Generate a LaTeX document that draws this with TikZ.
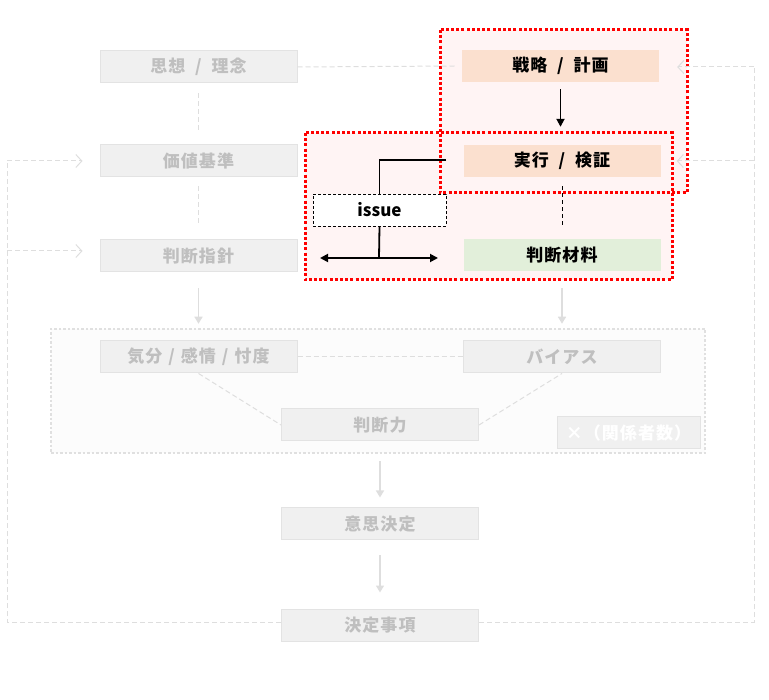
\documentclass[tikz,border=0pt]{standalone}
\usepackage{fontspec}
\setmainfont{Noto Sans CJK JP}[LetterSpace=6]
\newfontfamily\latinjp{Noto Sans CJK JP}
\usetikzlibrary{arrows.meta}
\definecolor{gfill}{HTML}{F0F0F0}
\definecolor{gborder}{HTML}{E3E3E3}
\definecolor{gtext}{HTML}{BFBFBF}
\definecolor{gline}{HTML}{DEDEDE}
\definecolor{peachc}{HTML}{FBE0CF}
\definecolor{greenc}{HTML}{E2EFDA}
\definecolor{pinkc}{HTML}{FFF4F4}
\definecolor{grpfill}{HTML}{FCFCFC}
\definecolor{grpline}{HTML}{E0E0E0}
\begin{document}
\begin{tikzpicture}[x=1pt,y=-1pt,
  box/.style={minimum width=197pt,minimum height=32pt,inner sep=0pt,font=\bfseries\fontsize{17}{17}\selectfont},
  graybox/.style={box,fill=gfill,draw=gborder,line width=1pt,text=gtext},
  peachbox/.style={box,fill=peachc,text=black},
  greenbox/.style={box,fill=greenc,text=black},
  issuebox/.style={box,minimum width=133pt,fill=white,draw=black,line width=0.8pt,dash pattern=on 3pt off 2pt,text=black,font=\latinjp\bfseries\fontsize{17}{17}\selectfont},
  gdash/.style={draw=gline,line width=1pt,dash pattern=on 5pt off 3pt},
  garrow/.style={draw=gline,line width=1.5pt,-{Triangle[length=7pt,width=8pt]}},
  looparrow/.style={gdash,-{Straight Barb[length=6pt,width=13pt,line width=1pt]}},
  blkline/.style={draw=black,line width=1.8pt},
  blkarrow/.style={blkline,-{Triangle[length=8pt,width=8pt]}},
  reddot/.style={draw=red,line width=3pt,dash pattern=on 3pt off 2.2pt},
]
\useasboundingbox (0,0) rectangle (769,700);
% background groups
\node[draw=grpline,fill=grpfill,line width=2.5pt,dash pattern=on 2.5pt off 2pt,minimum width=654pt,minimum height=124pt,inner sep=0pt] (grp) at (378,391) {};
\fill[pinkc] (440,30) rectangle (687,193);
\fill[pinkc] (305,133) rectangle (672,280);
\draw[reddot] (440,30) rectangle (687,193);
\draw[reddot] (305,133) rectangle (672,280);
% nodes
\node[graybox] (sisou) at (198.5,67) {思想\ \ /\ \ 理念};
\node[graybox] (kachi) at (198.5,161) {価値基準};
\node[graybox] (hanshin) at (198.5,256) {判断指針};
\node[peachbox] (senryaku) at (560.5,66) {戦略\ \ /\ \ 計画};
\node[peachbox] (jikko) at (562,161) {実行\ \ /\ \ 検証};
\node[greenbox] (zairyo) at (562,255) {判断材料};
\node[issuebox] (issue) at (379.5,210) {issue};
\node[graybox] (kibun) at (198.5,357) {気分\hspace{6pt}/\hspace{6pt}感情\hspace{6pt}/\hspace{6pt}忖度};
\node[graybox] (bias) at (562,357) {バイアス};
\node[graybox] (handan) at (380,425) {判断力};
\node[box,minimum width=143pt,fill=gfill,draw=gborder,line width=1pt,text=white] (kankei) at (628.5,433) {×（関係者数）};
\node[graybox] (ishi) at (380,524) {意思決定};
\node[graybox] (kettei) at (380,625) {決定事項};
% coordinates
\coordinate (LB) at (7,622);
\coordinate (LT) at (7,161);
\coordinate (LH) at (7,251);
\coordinate (RB) at (754,622);
\coordinate (RT) at (754,67);
\coordinate (iss1) at (446,160);
\coordinate (ibot) at (379,258);
\coordinate (ileft) at (320,258);
\coordinate (iright) at (438,258);
% gray connectors
\draw[gdash] (sisou.east) -- ([xshift=-7pt]senryaku.west);
\draw[gdash,shorten <=10pt,shorten >=12pt] (sisou) -- (kachi);
\draw[gdash,shorten <=9pt,shorten >=14pt] (kachi) -- (hanshin);
\draw[garrow,shorten <=16pt,shorten >=4pt] (hanshin.south) -- (hanshin.south |- grp.north);
\draw[garrow,shorten <=17pt,shorten >=4pt] (zairyo.south) -- (zairyo.south |- grp.north);
\draw[gdash] (kibun.east) -- (bias.west);
\draw[gdash] (kibun.south) -- (handan.west);
\draw[gdash] (handan.east) -- (bias.south);
\draw[garrow,shorten <=20pt,shorten >=10pt] (handan.south) -- (ishi.north);
\draw[garrow,shorten <=15pt,shorten >=16pt] (ishi.south) -- (kettei.north);
% feedback loops
\draw[gdash] (kettei.west |- LB) -- (LB) -- (LT);
\draw[looparrow,shorten >=17pt] (LT) -- (kachi.west);
\draw[looparrow,shorten >=17pt] (LH) -- (LH -| hanshin.west);
\draw[gdash] (kettei.east |- RB) -- (RB) -- (RT);
\draw[looparrow,shorten >=18pt] (RT) -- (RT -| senryaku.east);
\draw[looparrow,shorten >=16pt] (RB |- jikko.east) -- (jikko.east);
% black connectors
\draw[blkarrow,shorten <=7pt,shorten >=18pt] (senryaku.south) -- (senryaku.south |- jikko.north);
\draw[draw=black,line width=1pt,dash pattern=on 4pt off 3pt,shorten <=9pt,shorten >=13pt] (jikko.south) -- (zairyo.north);
\draw[blkline] (iss1) -| (issue.north);
\draw[blkline] (issue.south) -- (ibot);
\draw[blkline,{Triangle[length=8pt,width=8pt]}-{Triangle[length=8pt,width=8pt]}] (ileft) -- (iright);
\end{tikzpicture}
\end{document}
